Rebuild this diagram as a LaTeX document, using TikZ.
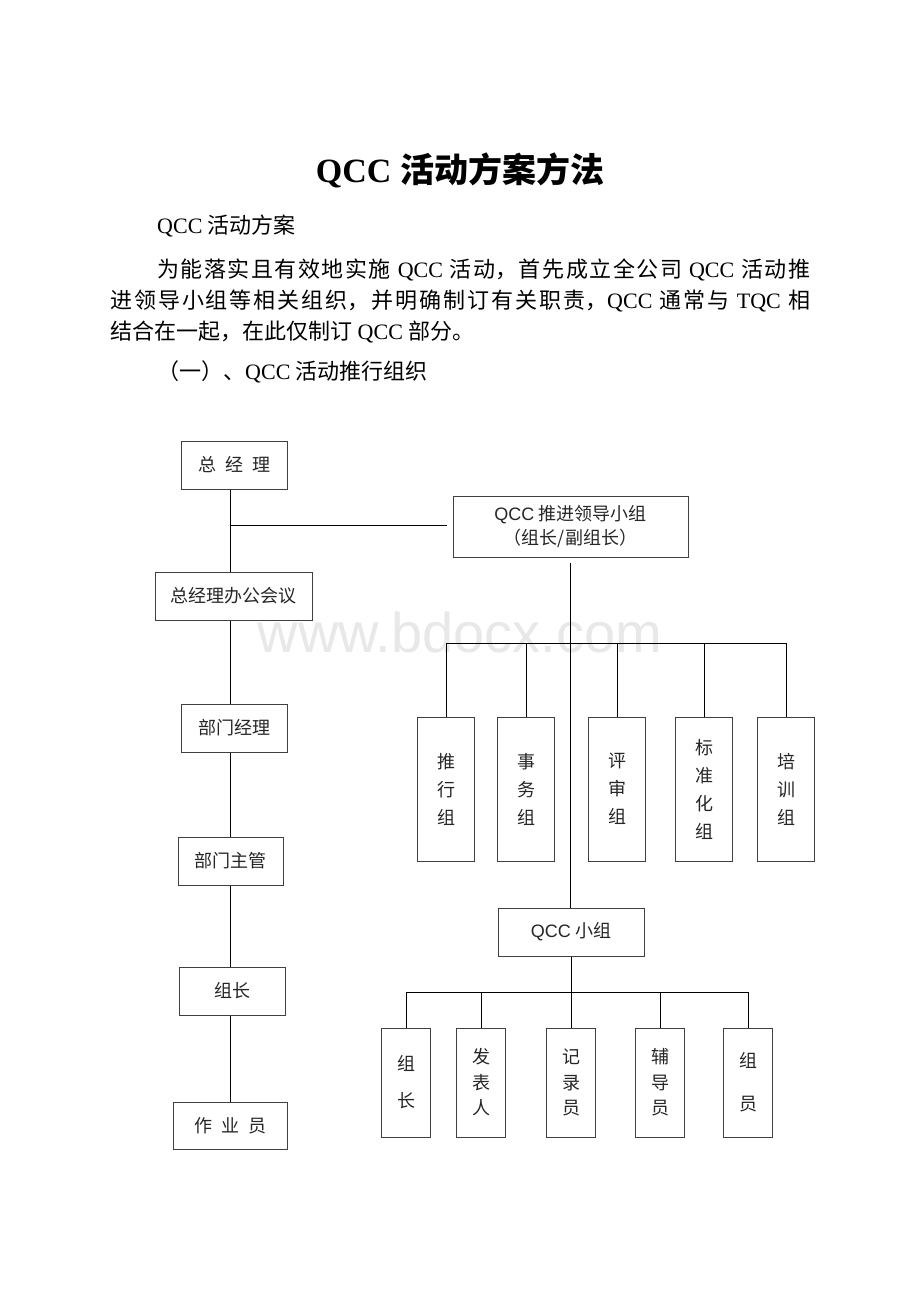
\documentclass[tikz,border=0pt]{standalone}
\usepackage{fontspec}
\setmainfont{Liberation Serif}
\newfontfamily\cjk{Noto Sans CJK SC}
\newfontfamily\hei{Liberation Sans}
\usetikzlibrary{positioning,calc}
\newcommand{\gap}{\hspace{9pt}}
\newcommand{\jline}[2]{\parbox[b]{#1}{\XeTeXlinebreaklocale "zh"\XeTeXlinebreakskip=0pt plus 3pt\relax\parfillskip=0pt\relax #2}}

\begin{document}
\begin{tikzpicture}[x=1pt,y=-1pt,
  box/.style={draw=black!75, line width=1pt, inner sep=0pt, align=center, text=black!85,
    font=\cjk\fontsize{18}{24}\selectfont},
  grp/.style={box, minimum width=57pt, minimum height=144pt, font=\cjk\fontsize{18}{28}\selectfont},
  mem/.style={box, minimum width=49pt, minimum height=109pt, font=\cjk\fontsize{18}{25.5}\selectfont},
  body/.style={anchor=base west, inner sep=0pt, font=\fontsize{22}{30}\selectfont},
  wire/.style={line width=0.9pt}]
\fill[white] (0,0) rectangle (920,1302);
\useasboundingbox (0,0) rectangle (920,1302);

\node[anchor=base, inner sep=0pt, text=black!9, font=\hei\fontsize{56}{60}\selectfont] (wm) at (460,652) {www.bdocx.com};

\node[anchor=base, inner sep=0pt, font=\bfseries\fontsize{34}{40}\selectfont] (title) at (460,182) {QCC {\cjk 活动方案方法}};
\node[body] (h1) at (157,233) {QCC {\cjk 活动方案}};
\node[body] (p1) at (157,277) {\jline{653pt}{{\cjk 为能落实且有效地实施} QCC {\cjk 活动，首先成立全公司} QCC {\cjk 活动推}}};
\node[body] (p2) at (110,308) {\jline{700pt}{{\cjk 进领导小组等相关组织，并明确制订有关职责，}QCC {\cjk 通常与} TQC {\cjk 相}}};
\node[body] (p3) at (110,339) {{\cjk 结合在一起，在此仅制订} QCC {\cjk 部分。}};
\node[body] (h2) at (157,379) {{\cjk （一）、}QCC {\cjk 活动推行组织}};

\node[box, minimum width=106pt, minimum height=48pt] (zjl) at (234,465) {总\gap 经\gap 理};
\node[box, minimum width=157pt, minimum height=48pt] (hy) at (233.5,596) {总经理办公会议};
\node[box, minimum width=106pt, minimum height=48pt] (bmjl) at (234,728) {部门经理};
\node[box, minimum width=105pt, minimum height=48pt] (bmzg) at (230.5,861) {部门主管};
\node[box, minimum width=106pt, minimum height=48pt] (zz) at (232,991) {组长};
\node[box, minimum width=114pt, minimum height=47pt] (zyy) at (230,1125.5) {作\gap 业\gap 员};

\coordinate (tk) at (230,525);
\foreach \a/\b in {zjl/hy,hy/bmjl,bmjl/bmzg,bmzg/zz,zz/zyy}
  \draw[wire] (\a.south -| tk) -- (\b.north -| tk);

\node[box, minimum width=235pt, minimum height=61pt] (lead) at (570.5,526.5) {{\hei QCC} 推进领导小组\\（组长/副组长）};
\draw[wire, shorten >=6pt] (tk) -- (tk -| lead.west);

\node[box, minimum width=146pt, minimum height=48pt] (qcc) at (571,932) {{\hei QCC} 小组};
\draw[wire, shorten <=5pt] (lead.south) -- (lead.south |- qcc.north);

\coordinate (hub1) at (571,643);
\foreach \n/\t/\x in {tx/推\\行\\组/446, sw/事\\务\\组/526, ps/评\\审\\组/617, bz/标\\准\\化\\组/704, px/培\\训\\组/786}
  \node[grp] (\n) at (\x,789) {\t};
\draw[wire] (tx.north |- hub1) -- (px.north |- hub1);
\foreach \n in {tx,sw,ps,bz,px}
  \draw[wire] (\n.north |- hub1) -- (\n.north);

\coordinate (hub2) at (571,992);
\foreach \n/\t/\x in {zc/组\\[11.5pt]长/406, fb/发\\表\\人/481, jl/记\\录\\员/571, fd/辅\\导\\员/660, zy/组\\[17.5pt]员/748}
  \node[mem] (\n) at (\x,1082.5) {\t};
\draw[wire] (qcc.south) -- (jl.north);
\draw[wire] (zc.north |- hub2) -- (zy.north |- hub2);
\foreach \n in {zc,fb,fd,zy}
  \draw[wire] (\n.north |- hub2) -- (\n.north);
\end{tikzpicture}
\end{document}
